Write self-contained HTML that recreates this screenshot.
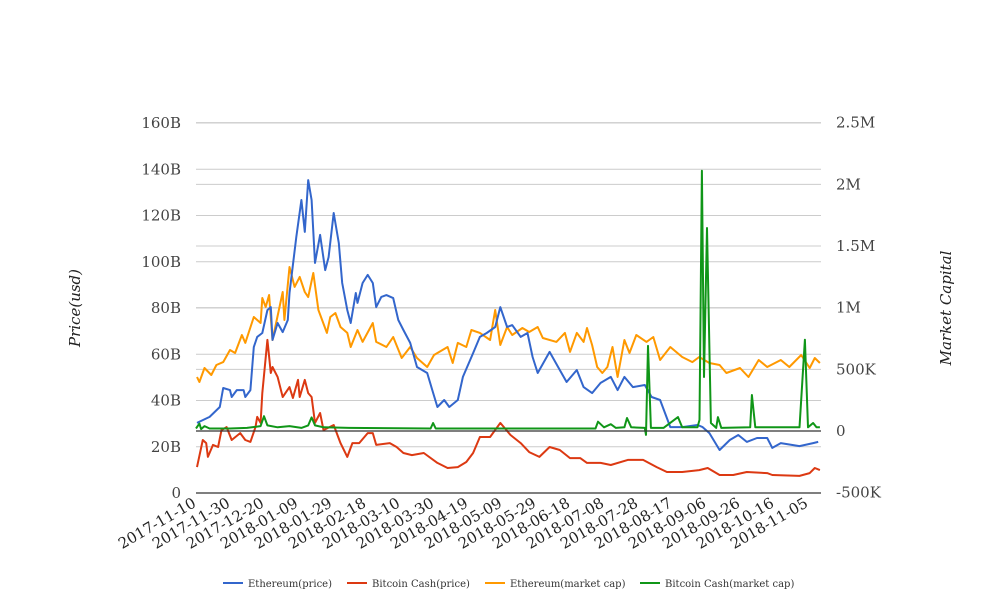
<!DOCTYPE html>
<html><head><meta charset="utf-8"><style>
html,body{margin:0;padding:0;background:#fff;}
svg{display:block;font-family:"DejaVu Serif","Liberation Serif",serif;}
</style></head><body>
<svg id="chart" width="1008" height="616" viewBox="0 0 1008 616" xmlns="http://www.w3.org/2000/svg">
<g id="grid"></g>
<g id="series"></g>
<g id="axes"></g>
<text transform="translate(80,308) rotate(-90)" text-anchor="middle" font-size="15" font-style="italic" fill="#222">Price(usd)</text>
<text transform="translate(951,308) rotate(-90)" text-anchor="middle" font-size="15" font-style="italic" fill="#222">Market Capital</text>
<g id="legend"></g>
</svg>
<script>
const tickLabelsX = ["2017-11-10","2017-11-30","2017-12-20","2018-01-09","2018-01-29","2018-02-18","2018-03-10","2018-03-30","2018-04-19","2018-05-09","2018-05-29","2018-06-18","2018-07-08","2018-07-28","2018-08-17","2018-09-06","2018-09-26","2018-10-16","2018-11-05"];
const leftTicks = [0,20,40,60,80,100,120,140,160];
const leftTickLabels = ["0","20B","40B","60B","80B","100B","120B","140B","160B"];
const rightTicks = [-500,0,500,1000,1500,2000,2500];
const rightTickLabels = ["-500K","0","500K","1M","1.5M","2M","2.5M"];
const seriesNames = ["Ethereum(price)","Bitcoin Cash(price)","Ethereum(market cap)","Bitcoin Cash(market cap)"];

const ethPriceDays = [0.6,8,14,16,20,21,24,28,29,32,34,36,39,42,44,45,48,51,54,55,59,62,64,66,68,70,73,76,78,81,84,86,89,91,94,95,98,101,104,106,109,112,116,119,122,126,130,136,139,142,146,149,154,157,163,167,171,176,179,183,186,191,195,198,201,208,214,218,224,228,233,238,244,248,252,257,264,268,273,279,286,295,298,302,308,314,319,324,330,336,339,344,355,363,366];
const ethPrice = [30.3,32.9,37.2,45.4,44.5,41.5,44.5,44.5,41.5,44.5,63.1,67.5,69.2,79.1,80.4,66.2,73.5,69.6,74.8,86.5,110.7,126.7,112.9,135.3,126.7,99.5,111.6,96.4,102.0,121.1,108.1,90.8,79.1,73.5,86.5,82.2,90.8,94.3,90.8,80.4,84.8,85.6,84.3,74.8,70.5,64.9,54.5,51.9,44.5,37.2,40.2,37.2,40.2,50.2,60.5,67.5,69.2,71.8,80.4,71.8,72.6,67.5,69.2,58.8,51.9,61.0,53.2,48.0,53.2,45.8,43.2,47.6,50.2,44.5,50.2,45.8,46.7,41.5,40.2,28.5,28.5,29.4,28.5,25.9,18.6,22.9,25.1,22.1,23.8,23.8,19.5,21.6,20.3,21.6,22.1];

const bchPriceDays = [0.6,4,6,7,10,13,15,18,21,26,29,32,35,36,38,39,42,44,45,48,51,55,57,60,61,64,66,68,70,73,75,81,85,89,92,96,101,104,106,114,118,122,127,134,142,148,154,159,163,167,173,179,185,191,196,202,208,214,220,226,230,238,244,254,263,271,277,286,296,301,308,316,324,336,339,355,361,364,367];
const bchPrice = [11.2,22.9,21.6,15.6,20.8,19.9,27.2,28.5,22.9,25.9,22.9,22.1,28.5,32.9,30.3,43.2,66.2,51.9,54.5,50.2,41.5,45.8,41.1,48.9,41.5,48.9,43.2,41.5,30.3,34.6,27.2,29.4,21.6,15.6,21.6,21.6,25.9,25.9,20.8,21.6,19.9,17.3,16.4,17.3,13.0,10.8,11.2,13.4,17.3,24.2,24.2,30.3,25.1,21.6,17.7,15.6,19.9,18.6,15.1,15.1,13.0,13.0,12.1,14.3,14.3,11.2,9.1,9.1,9.9,10.8,7.8,7.8,9.1,8.6,7.8,7.4,8.6,10.8,9.9];

const ethCapDays = [0.6,2,5,9,12,16,20,23,27,29,34,38,39,41,43,45,51,52,55,58,61,64,66,69,72,77,79,82,85,89,91,95,98,104,106,112,116,121,126,130,136,140,148,151,154,159,162,167,173,176,179,183,186,192,196,201,204,212,217,220,224,228,230,233,236,239,242,245,248,252,255,259,265,269,273,279,286,292,296,302,308,312,320,325,331,336,344,349,356,361,364,367];
const ethCap = [438,397,511,454,535,559,657,632,778,714,924,876,1078,1005,1103,738,1127,900,1330,1168,1249,1127,1086,1281,981,795,924,957,843,795,681,819,722,876,722,681,762,592,681,592,519,616,681,551,714,681,819,795,738,981,697,843,778,835,803,843,754,722,795,641,795,722,835,697,519,470,519,681,438,738,632,778,722,762,576,681,600,559,600,551,535,470,511,438,576,519,576,519,616,511,592,551];

const bchCapDays = [0,2,3,5,8,20,30,38,40,42,48,55,62,66,68,70,75,90,138,139.5,141,235,236.5,240,244,247,252,253.5,256,264,264.7,265.9,267.6,275,283.5,286,295,296.2,297.6,298.8,300.6,302.9,306,307,309,326,327,329,355,358.2,360,363,365,367];
const bchCap = [20,60,15,40,20,20,25,40,120,45,30,40,25,45,110,45,30,25,20,65,20,20,75,30,55,25,30,105,30,25,-32,690,25,25,113,30,30,90,2110,438,1646,65,25,113,25,30,292,30,30,740,30,65,30,30];

const X0 = 196, PXDAY = 1.7;
function xAt(d){ return X0 + d*PXDAY; }
function yLeft(v){ return 493 - v*(370/160); }
function yRight(v){ return 431 - v*(61.67/500); }

const NS = "http://www.w3.org/2000/svg";
function mk(tag, parent){ const e=document.createElementNS(NS,tag); parent.appendChild(e); return e; }

const grid = document.getElementById('grid');
const axes = document.getElementById('axes');
const seriesG = document.getElementById('series');
const legend = document.getElementById('legend');

leftTicks.forEach((t,i)=>{
  const y = yLeft(t);
  if (t !== 0) {
    const l = mk('line', grid);
    
    
    l.setAttribute('x1',196); l.setAttribute('x2',821); l.setAttribute('y1',y); l.setAttribute('y2',y);
    l.setAttribute('stroke','#cccccc'); l.setAttribute('stroke-width','1');
  }
  const tx = mk('text', axes);
  
  
  tx.setAttribute('x',181); tx.setAttribute('y',y+5); tx.setAttribute('text-anchor','end');
  tx.setAttribute('font-size','15'); tx.setAttribute('fill','#444');
  tx.textContent = leftTickLabels[i];
});
rightTicks.forEach((t,i)=>{
  const y = yRight(t);
  if (t !== 0 && t !== -500) {
    const l = mk('line', grid);
    
    
    l.setAttribute('x1',196); l.setAttribute('x2',821); l.setAttribute('y1',y); l.setAttribute('y2',y);
    l.setAttribute('stroke','#cccccc'); l.setAttribute('stroke-width','1');
  }
  const tx = mk('text', axes);
  
  
  tx.setAttribute('x',836); tx.setAttribute('y',y+5); tx.setAttribute('text-anchor','start');
  tx.setAttribute('font-size','15'); tx.setAttribute('fill','#444');
  tx.textContent = rightTickLabels[i];
});

const zl = mk('line', axes);


zl.setAttribute('x1',196); zl.setAttribute('x2',821); zl.setAttribute('y1',yRight(0)); zl.setAttribute('y2',yRight(0));
zl.setAttribute('stroke','#333'); zl.setAttribute('stroke-width','1.2');
const bl = mk('line', axes);


bl.setAttribute('x1',196); bl.setAttribute('x2',821); bl.setAttribute('y1',yLeft(0)); bl.setAttribute('y2',yLeft(0));
bl.setAttribute('stroke','#333'); bl.setAttribute('stroke-width','1.2');

tickLabelsX.forEach((s,i)=>{
  const x = xAt(i*20);
  const tx = mk('text', axes);
  
  
  tx.setAttribute('transform','translate('+(x+1)+',506) rotate(-30)');
  tx.setAttribute('text-anchor','end'); tx.setAttribute('font-size','15'); tx.setAttribute('fill','#222');
  tx.textContent = s;
});

function drawLine(days, vals, yf, color, name){
  const p = mk('path', seriesG);
  
  
  let d = '';
  days.forEach((dd,i)=>{ d += (i?'L':'M') + xAt(dd).toFixed(1) + ',' + yf(vals[i]).toFixed(1); });
  p.setAttribute('d', d);
  p.setAttribute('fill','none'); p.setAttribute('stroke',color); p.setAttribute('stroke-width','2');
  p.setAttribute('stroke-linejoin','round');
}
const colors = ["#3366cc","#dc3912","#ff9900","#109618"];
drawLine(ethCapDays, ethCap, yRight, colors[2], 'ethereum-market-cap-line');
drawLine(ethPriceDays, ethPrice, yLeft, colors[0], 'ethereum-price-line');
drawLine(bchPriceDays, bchPrice, yLeft, colors[1], 'bitcoin-cash-price-line');
drawLine(bchCapDays, bchCap, yRight, colors[3], 'bitcoin-cash-market-cap-line');

const legX = [223,347,485,640];
seriesNames.forEach((n,i)=>{
  const g = mk('g', legend);
  
  
  const l = mk('line', g);
  l.setAttribute('x1',legX[i]); l.setAttribute('x2',legX[i]+20); l.setAttribute('y1',583); l.setAttribute('y2',583);
  l.setAttribute('stroke',colors[i]); l.setAttribute('stroke-width','2');
  const t = mk('text', g);
  t.setAttribute('x',legX[i]+25); t.setAttribute('y',587); t.setAttribute('font-size','10'); t.setAttribute('fill','#333');
  t.textContent = n;
});
</script>
</body></html>
